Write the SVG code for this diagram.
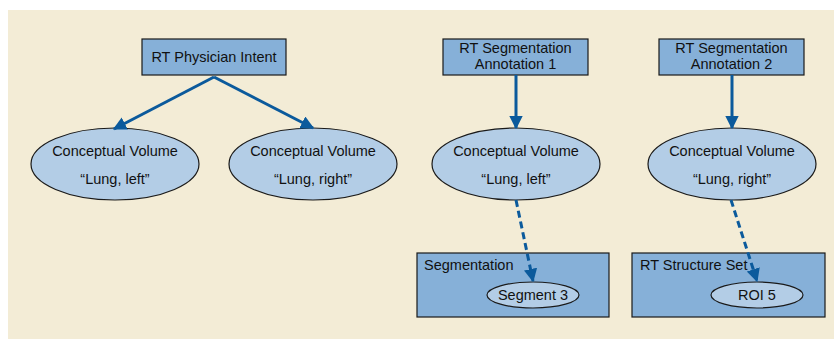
<svg xmlns="http://www.w3.org/2000/svg" width="834" height="339" viewBox="0 0 834 339">
<style>
.box{fill:#86b0d8;stroke:#1a1a1a;stroke-width:1.2}
.ell{fill:#b3cde6;stroke:#1a1a1a;stroke-width:1.2}
text{font-family:"Liberation Sans",Arial,sans-serif;font-size:14.5px;fill:#111}
.c{text-anchor:middle}
.arr{stroke:#0b5a9c;stroke-width:3;fill:none}
.dash{stroke-dasharray:7 4}
</style>
<defs>
<marker id="ah" viewBox="0 0 10 10" refX="9" refY="5" markerWidth="4.5" markerHeight="4.5" orient="auto" markerUnits="strokeWidth">
<path d="M0,0 L10,5 L0,10 z" fill="#0b5a9c"/>
</marker>
</defs>
<rect x="8" y="10" width="826" height="329" fill="#f3ecd6"/>
<g id="physician">
<rect class="box" x="142" y="39" width="144" height="36"/>
<text class="c" x="214" y="62">RT Physician Intent</text>
</g>
<g id="seg1">
<rect class="box" x="443" y="39" width="145" height="36"/>
<text class="c" x="515.5" y="53">RT Segmentation</text>
<text class="c" x="515.5" y="68.5">Annotation 1</text>
</g>
<g id="seg2">
<rect class="box" x="659" y="39" width="145" height="36"/>
<text class="c" x="731.5" y="53">RT Segmentation</text>
<text class="c" x="731.5" y="68.5">Annotation 2</text>
</g>
<g id="cv1">
<ellipse class="ell" cx="115" cy="164" rx="84" ry="36"/>
<text class="c" x="115" y="156">Conceptual Volume</text>
<text class="c" x="115" y="184">“Lung, left”</text>
</g>
<g id="cv2">
<ellipse class="ell" cx="313" cy="164" rx="84" ry="36"/>
<text class="c" x="313" y="156">Conceptual Volume</text>
<text class="c" x="313" y="184">“Lung, right”</text>
</g>
<g id="cv3">
<ellipse class="ell" cx="516" cy="164" rx="84" ry="36"/>
<text class="c" x="516" y="156">Conceptual Volume</text>
<text class="c" x="516" y="184">“Lung, left”</text>
</g>
<g id="cv4">
<ellipse class="ell" cx="732" cy="164" rx="84" ry="36"/>
<text class="c" x="732" y="156">Conceptual Volume</text>
<text class="c" x="732" y="184">“Lung, right”</text>
</g>
<g id="segmentation">
<rect class="box" x="417" y="253" width="192" height="64"/>
<text x="424" y="270">Segmentation</text>
<ellipse class="ell" cx="533" cy="295" rx="46" ry="13"/>
<text class="c" x="533" y="300">Segment 3</text>
</g>
<g id="structureset">
<rect class="box" x="632" y="253" width="193" height="64"/>
<text x="640" y="270">RT Structure Set</text>
<ellipse class="ell" cx="757" cy="295" rx="46" ry="13"/>
<text class="c" x="757" y="300">ROI 5</text>
</g>
<g id="connectors">
<path class="arr" d="M214,77 L114,129" marker-end="url(#ah)"/>
<path class="arr" d="M214,77 L313,128" marker-end="url(#ah)"/>
<path class="arr" d="M516,75 L516,128" marker-end="url(#ah)"/>
<path class="arr" d="M732,75 L732,128" marker-end="url(#ah)"/>
<path class="arr dash" d="M516,200 L533,281" marker-end="url(#ah)"/>
<path class="arr dash" d="M731,200 L757,281" marker-end="url(#ah)"/>
</g>
</svg>
